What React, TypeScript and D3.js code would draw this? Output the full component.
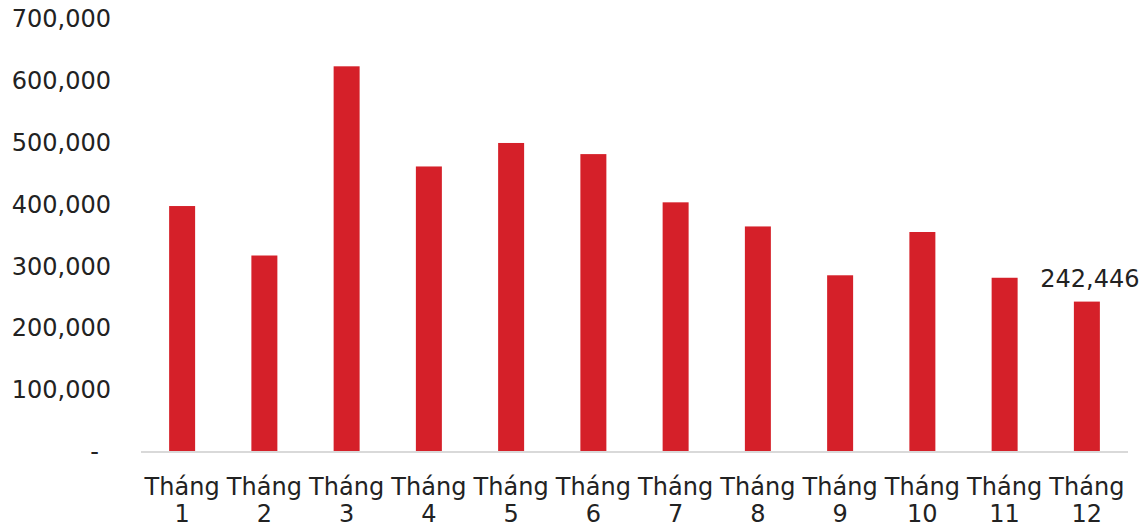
import React from "react";
import * as d3 from "d3";

const months = ["Tháng 1", "Tháng 2", "Tháng 3", "Tháng 4", "Tháng 5", "Tháng 6", "Tháng 7", "Tháng 8", "Tháng 9", "Tháng 10", "Tháng 11", "Tháng 12"];
const values = [397000, 317000, 623000, 461000, 499000, 481000, 403000, 364000, 285000, 355000, 281000, 242446];
const yTicks = [0, 100000, 200000, 300000, 400000, 500000, 600000, 700000];
const labelledIndex = 11;

const W = 1140;
const H = 526;
const FONT = "'DejaVu Sans', sans-serif";
const BAR = "#d52029";
const TEXT = "#222222";

export default function App() {
  const x = d3.scaleBand<string>().domain(months).range([141, 1128]).paddingInner(0.684).paddingOuter(0.342);
  const y = d3.scaleLinear().domain([0, 700000]).range([451.5, 18.7]);
  const fmt = d3.format(",");

  return (
    <svg width={W} height={H} style={{ position: "absolute", left: 0, top: 0, background: "#fff" }}>
      <g fontFamily={FONT} fontSize={24} fill={TEXT}>
        {yTicks.map((t) => (
          <text key={t} x={t === 0 ? 99 : 111} y={y(t) + 8.6} textAnchor="end">
            {t === 0 ? "-" : fmt(t)}
          </text>
        ))}
      </g>
      {months.map((m, i) => (
        <rect key={m} x={x(m)} y={y(values[i])} width={x.bandwidth()} height={y(0) - y(values[i])} fill={BAR} />
      ))}
      <line x1={141} x2={1128} y1={y(0) + 0.5} y2={y(0) + 0.5} stroke="#d9d9d9" strokeWidth={2} />
      <g fontFamily={FONT} fontSize={24} fill={TEXT} textAnchor="middle">
        {months.map((m) => {
          const [a, b] = m.split(" ");
          const cx = (x(m) as number) + x.bandwidth() / 2;
          return (
            <text key={m} x={cx} y={495}>
              <tspan x={cx}>{a}</tspan>
              <tspan x={cx} dy={26.5}>{b}</tspan>
            </text>
          );
        })}
        <text x={(x(months[labelledIndex]) as number) + x.bandwidth() / 2 + 3} y={y(values[labelledIndex]) - 15}>
          {fmt(values[labelledIndex])}
        </text>
      </g>
    </svg>
  );
}
